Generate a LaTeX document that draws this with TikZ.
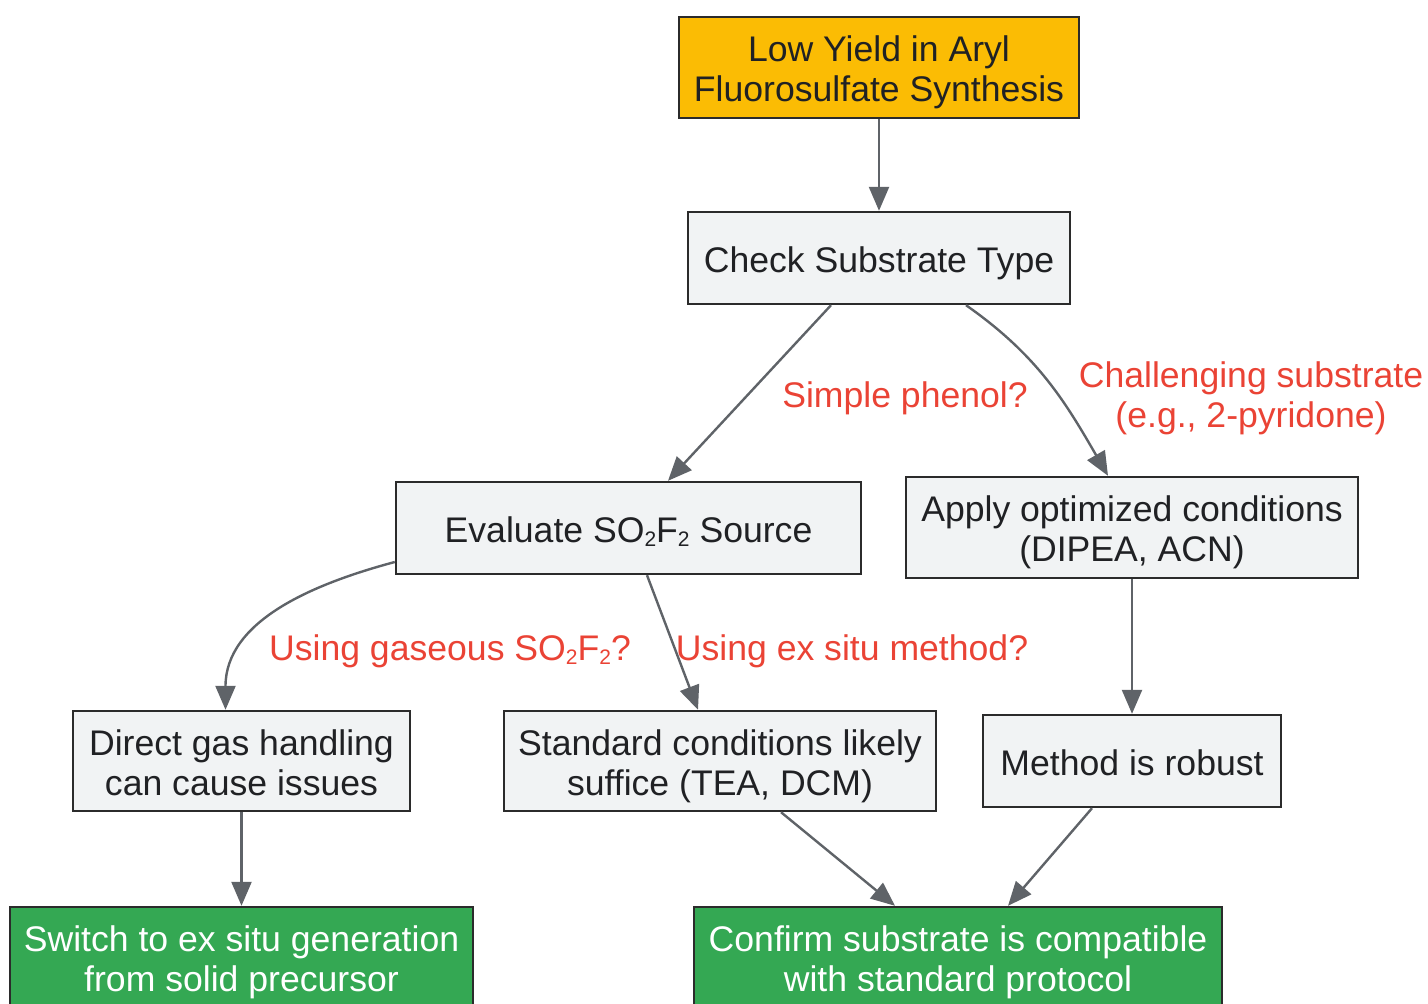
\documentclass[tikz,border=0pt]{standalone}
\usepackage{fontspec}
\setmainfont{Liberation Sans}
\usetikzlibrary{shapes,arrows.meta}

\definecolor{ink}{HTML}{202124}
\definecolor{boxline}{HTML}{2B2B2B}
\definecolor{boxgrey}{HTML}{F1F3F4}
\definecolor{startyellow}{HTML}{FBBC04}
\definecolor{goodgreen}{HTML}{34A853}
\definecolor{edgegrey}{HTML}{5F6368}
\definecolor{labelred}{HTML}{EA4335}

\newcommand{\subdigit}[1]{\raisebox{-0.12em}{\fontsize{10.5}{10}\selectfont #1}}
\newcommand{\sotwo}{SO\subdigit{2}F\subdigit{2}}

\begin{document}
\begin{tikzpicture}[x=0.5pt,y=-0.5pt]
	\tikzstyle{box} = [draw=boxline, line width=1.2pt, rectangle, align=center, fill=boxgrey, text=ink, inner sep=0pt, font=\fontsize{17.8}{20}\selectfont, text height=14.4pt, text depth=0pt]
	\tikzstyle{twolines} = [text height=34.4pt, text depth=0pt]
	\tikzstyle{start} = [box, fill=startyellow]
	\tikzstyle{done} = [box, fill=goodgreen, text=white]
	\tikzstyle{flow} = [draw=edgegrey, line width=1.2pt, -{Triangle[length=12pt,width=10pt]}]
	\tikzstyle{cond} = [text=labelred, align=center, inner sep=0pt, font=\fontsize{17.8}{20}\selectfont, text height=14.4pt, text depth=0pt]
	\useasboundingbox (0,0) rectangle (1428,1004);
	% Boxes
	\node[start, twolines, minimum width=200pt, minimum height=50.5pt] (lowyield) at (879,67.5) {Low Yield in Aryl\\Fluorosulfate Synthesis};
	\node[box, minimum width=191pt, minimum height=46pt] (checktype) at (879,258) {Check Substrate Type};
	\node[box, minimum width=232.5pt, minimum height=46pt] (evalsource) at (628.5,528) {Evaluate \sotwo{} Source};
	\node[box, twolines, minimum width=226pt, minimum height=50.5pt] (optimized) at (1132,527.5) {Apply optimized conditions\\(DIPEA, ACN)};
	\node[box, twolines, minimum width=168.5pt, minimum height=50pt] (gashandling) at (241.5,761) {Direct gas handling\\can cause issues};
	\node[box, twolines, minimum width=216pt, minimum height=50pt] (standardcond) at (720,761) {Standard conditions likely\\suffice (TEA, DCM)};
	\node[box, minimum width=149pt, minimum height=46pt] (robust) at (1132,761) {Method is robust};
	\node[done, twolines, minimum width=231.5pt, minimum height=50.5pt] (exsitu) at (241.5,957.5) {Switch to ex situ generation\\from solid precursor};
	\node[done, twolines, minimum width=264pt, minimum height=50.5pt] (confirm) at (958,957.5) {Confirm substrate is compatible\\with standard protocol};
	% Condition labels
	\node[cond] (simplelbl) at (905,393) {Simple phenol?};
	\node[cond, twolines] (challlbl) at (1251,393) {Challenging substrate\\(e.g., 2-pyridone)};
	\node[cond] (gaslbl) at (450,646) {Using gaseous \sotwo?};
	\node[cond] (exsitulbl) at (852,646) {Using ex situ method?};
	% Connect boxes
	\draw[flow] (lowyield) -- (checktype);
	\draw[flow] ([xshift=-24pt]checktype.south) -- ([xshift=19.75pt]evalsource.north);
	\draw[flow] ([xshift=43.5pt]checktype.south) to[out=-35,in=120] ([xshift=-12pt]optimized.north);
	\draw[flow] ([yshift=-17pt]evalsource.west) to[out=195,in=90] ([xshift=-8pt]gashandling.north);
	\draw[flow] ([xshift=9.25pt]evalsource.south) -- ([xshift=-11pt]standardcond.north);
	\draw[flow] (optimized) -- (robust);
	\draw[flow] (gashandling) -- (exsitu);
	\draw[flow] ([xshift=30.5pt]standardcond.south) -- ([xshift=-31.5pt]confirm.north);
	\draw[flow] ([xshift=-20pt]robust.south) -- ([xshift=25pt]confirm.north);
\end{tikzpicture}
\end{document}
